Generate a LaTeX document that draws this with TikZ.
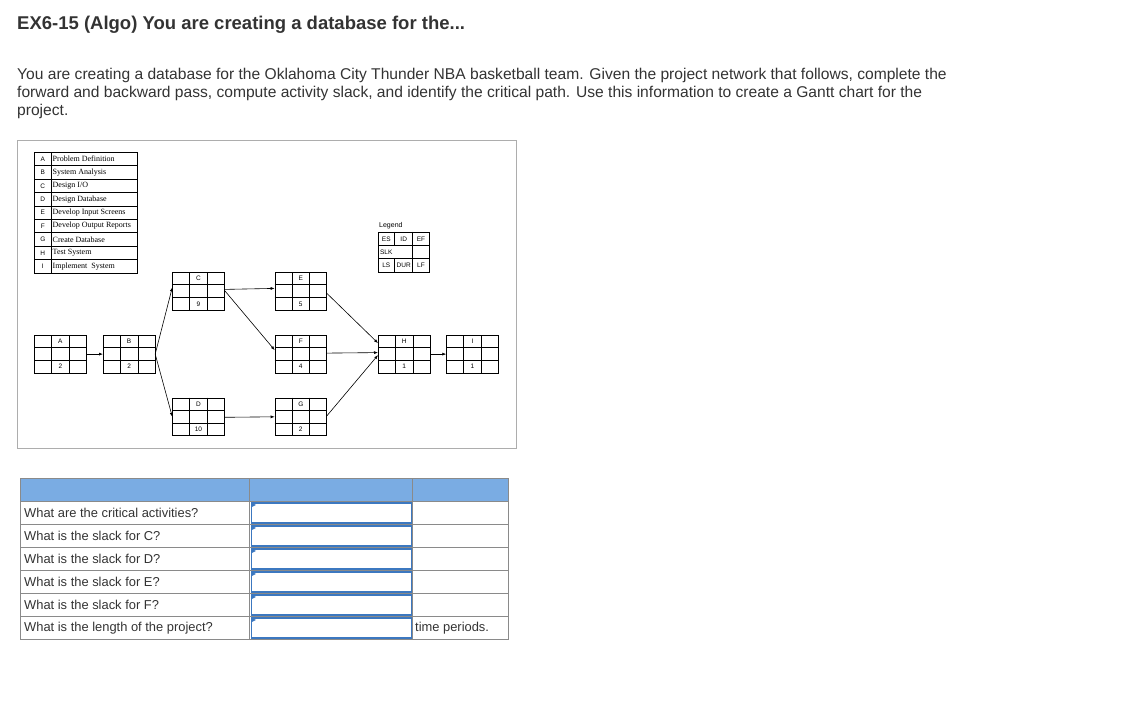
\documentclass[tikz,border=0pt]{standalone}
\usepackage{fontspec}
\setmainfont{Liberation Sans}
\newfontfamily\serifb{Liberation Serif}
\usetikzlibrary{arrows.meta,calc}
\definecolor{txt}{HTML}{333333}
\definecolor{hdr}{HTML}{7AACE3}
\definecolor{inb}{HTML}{3C78C0}
\definecolor{grd}{HTML}{8A8A8A}
\tikzset{
  boxshape/.style={draw,inner sep=0pt,minimum width=51.5pt,minimum height=37.5pt,anchor=north west,line width=0.7pt},
  arr/.style={-{Latex[length=4pt,width=3pt]},line width=0.6pt},
  para/.style={anchor=base west,inner sep=0pt,text=txt,font=\fontsize{15.6}{17}\selectfont},
  small/.style={inner sep=0pt,font=\fontsize{6.5}{7}\selectfont},
  listtxt/.style={anchor=west,inner sep=0pt,font=\serifb\fontsize{8}{9}\selectfont},
  qtxt/.style={anchor=west,inner sep=0pt,text=txt,font=\fontsize{12.9}{14}\selectfont},
}
\newcommand\actbox[5]{%
  \node[boxshape] (#1) at (#2,#3) {};
  \draw[line width=0.6pt] ($(#1.north west)!0.333!(#1.north east)$) -- ($(#1.south west)!0.333!(#1.south east)$)
    ($(#1.north west)!0.667!(#1.north east)$) -- ($(#1.south west)!0.667!(#1.south east)$)
    ($(#1.north west)!0.32!(#1.south west)$) -- ($(#1.north east)!0.32!(#1.south east)$)
    ($(#1.north west)!0.66!(#1.south west)$) -- ($(#1.north east)!0.66!(#1.south east)$);
  \node[small] (#1l) at ($(#1.north)!0.16!(#1.south)$) {#4};
  \node[small] (#1d) at ($(#1.north)!0.83!(#1.south)$) {#5};
}
\newcommand\inbox[2]{%
  \node[draw=inb,line width=1.2pt,inner sep=0pt,minimum width=160pt,minimum height=20pt,anchor=north west] (#1) at (251,#2) {};
  \fill[inb] ($(#1.north west)+(0,0)$) -- ++(5,2.5) -- ++(-5,2.5) -- cycle;
}
\begin{document}
\begin{tikzpicture}[x=1pt,y=-1pt]
\useasboundingbox (0,0) rectangle (1121,727);
\node[anchor=base west,inner sep=0pt,text=txt,font=\bfseries\fontsize{18.5}{20}\selectfont] (title) at (17,30) {EX6-15 (Algo) You are creating a database for the...};
\node[para] (p1) at (17,80) {You are creating a database for the Oklahoma City Thunder NBA basketball team. Given the project network that follows, complete the};
\node[para] (p2) at (17,98) {forward and backward pass, compute activity slack, and identify the critical path. Use this information to create a Gantt chart for the};
\node[para] (p3) at (17,116) {project.};
% frame
\node[draw=grd!70,line width=0.8pt,inner sep=0pt,minimum width=499pt,minimum height=308pt,anchor=north west] (frame) at (17,140) {};
% activity list
\foreach \l/\t [count=\i] in {A/Problem Definition,B/System Analysis,C/{Design I/O},D/Design Database,E/Develop Input Screens,F/Develop Output Reports,G/Create Database,H/Test System,I/Implement\ \ System}{
  \node[draw,line width=0.6pt,minimum width=17pt,minimum height=13.4pt,inner sep=0pt,anchor=north west,font=\fontsize{6.5}{7}\selectfont] (L\i) at (34,{152+(\i-1)*13.4}) {\l};
  \node[draw,line width=0.6pt,minimum width=86pt,minimum height=13.4pt,inner sep=0pt,anchor=north west] (T\i) at (51,{152+(\i-1)*13.4}) {};
  \node[listtxt] (TT\i) at ($(T\i.west)+(1.5,0)$) {\t};
}
% legend
\node[anchor=west,inner sep=0pt,font=\fontsize{7}{8}\selectfont] (legt) at (379,226) {Legend};
\node[draw,line width=0.6pt,inner sep=0pt,minimum width=51pt,minimum height=40pt,anchor=north west] (leg) at (378,232) {};
\draw[line width=0.6pt] (394.7,232) -- (394.7,245.5) (394.7,258.5) -- (394.7,272) (412.7,232) -- (412.7,272) (378,245.5) -- (429,245.5) (378,258.5) -- (429,258.5);
\node[small] (les) at (386.3,239) {ES};
\node[small] (lid) at (403.7,239) {ID};
\node[small] (lef) at (421,239) {EF};
\node[small] (lslk) at (386.3,252) {SLK};
\node[small] (lls) at (386.3,265.5) {LS};
\node[small] (ldur) at (403.7,265.5) {DUR};
\node[small] (llf) at (421,265.5) {LF};
% boxes
\actbox{A}{34.3}{335}{A}{2}
\actbox{B}{103}{335}{B}{2}
\actbox{C}{172.3}{272.3}{C}{9}
\actbox{D}{172.3}{397.7}{D}{10}
\actbox{E}{274.7}{272.3}{E}{5}
\actbox{F}{274.7}{335}{F}{4}
\actbox{G}{274.7}{397.7}{G}{2}
\actbox{H}{378}{335}{H}{1}
\actbox{I}{446.3}{335}{I}{1}
% arrows
\draw[arr] (A.east) -- (B.west);
\draw[arr] (B.east) -- ([yshift=4pt]C.west);
\draw[arr] (B.east) -- (D.west);
\draw[arr] ([yshift=2pt]C.east) -- ([yshift=3pt]E.west);
\draw[arr] ([yshift=1pt]C.east) -- ([yshift=4pt]F.west);
\draw[arr] ([yshift=-2pt]E.east) -- ([yshift=11pt]H.west);
\draw[arr] ([yshift=1pt]F.east) -- ([yshift=1.5pt]H.west);
\draw[arr] ([yshift=1pt]G.east) -- ([yshift=-1pt]H.west);
\draw[arr] ([yshift=-0.5pt]D.east) -- ([yshift=0pt]G.west);
\draw[arr] (H.east) -- (I.west);
% table
\fill[hdr] (20.3,478) rectangle (508.7,501.7);
\draw[grd,line width=0.8pt] (20.3,478) rectangle (508.7,639.3) (249.3,478) -- (249.3,639.3) (412.3,478) -- (412.3,639.3);
\foreach \y in {501.7,524.7,547.7,570.7,593.7,616.7}{\draw[grd,line width=0.8pt] (20.3,\y) -- (508.7,\y);}
\foreach \q/\y [count=\i] in {What are the critical activities?/513.2,What is the slack for C?/536.2,What is the slack for D?/559.2,What is the slack for E?/582.2,What is the slack for F?/605.2,What is the length of the project?/628.2}{
  \node[qtxt] (q\i) at (24,\y) {\q};
  \pgfmathsetmacro\yy{\y-10.8}
  \inbox{in\i}{\yy}
}
\node[qtxt] (tp) at (415,628.2) {time periods.};
\end{tikzpicture}
\end{document}
